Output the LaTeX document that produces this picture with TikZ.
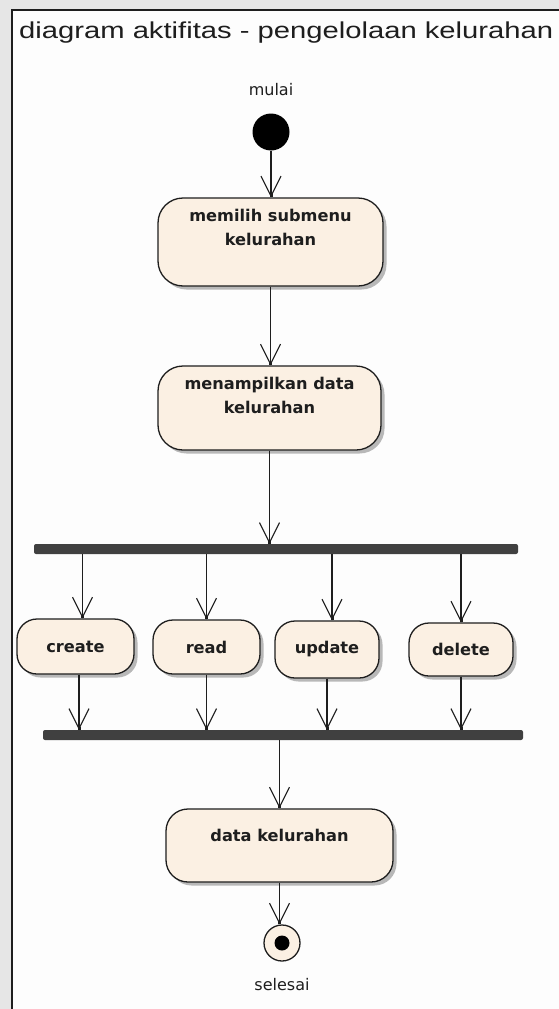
\documentclass[tikz,border=0pt]{standalone}
\usepackage{fontspec}
\setmainfont{DejaVu Sans}
\newfontfamily\titlefont{Liberation Sans}
\usetikzlibrary{arrows.meta,shadows}
\definecolor{boxfill}{HTML}{FBF0E3}
\definecolor{linec}{HTML}{1E1E1E}
\definecolor{barc}{HTML}{404040}
\definecolor{bgc}{HTML}{E6E6E6}
\definecolor{inner}{HTML}{FDFDFD}
\newcommand{\boxfont}{\fontsize{16.2}{23.5}\selectfont\bfseries}
\newcommand{\lblfont}{\fontsize{16}{19}\selectfont}
\begin{document}
\begin{tikzpicture}[x=1pt,y=-1pt,
  act/.style={draw=linec, line width=1.3pt, fill=boxfill, rounded corners=#1,
    drop shadow={shadow xshift=3.5pt, shadow yshift=-3.5pt, fill=black!50, opacity=0.55},
    inner sep=0pt, font=\boxfont, align=center, text=linec},
  act/.default=20pt,
  boxtext/.style={anchor=north, yshift=-12pt, font=\boxfont, align=center, text=linec, inner sep=0pt},
  bar/.style={fill=barc, rounded corners=2pt, inner sep=0pt, minimum height=10pt},
  flow/.style={draw=linec, line width=1.3pt,
    -{Straight Barb[length=20pt,width=20pt,line width=1.1pt,sep=-3pt]Square[length=3pt,width=3pt]}},
  lbl/.style={font=\lblfont, text=linec, inner sep=0pt}
]
\useasboundingbox (0,0) rectangle (559,1009);
% frame
\fill[bgc] (0,0) rectangle (559,1009);
\fill[inner] (12,10) rectangle (559,1009);
\draw[linec, line width=1.5pt] (12,1009) -- (12,10) -- (559,10);
\node[anchor=base west, inner sep=0pt, text=linec] (title) at (19,38.5)
  {\resizebox{534pt}{\height}{\titlefont\fontsize{23}{27}\selectfont diagram aktifitas - pengelolaan kelurahan}};

% start
\node[lbl] (mulai) at (271,90) {mulai};
\node[circle, fill=black, minimum size=37pt, inner sep=0pt] (start) at (271,132) {};

% activities
\node[act=25pt, minimum width=225pt, minimum height=88pt,
  label={[boxtext]north:memilih submenu\\kelurahan}] (b1) at (270.5,242) {};
\node[act=25pt, minimum width=223pt, minimum height=84pt,
  label={[boxtext]north:menampilkan data\\kelurahan}] (b2) at (269.5,408) {};

\node[bar, minimum width=484pt] (fork) at (276,549) {};

\node[act, minimum width=117pt, minimum height=55pt] (create) at (75.5,646.5) {create};
\node[act, minimum width=107pt, minimum height=54pt] (read) at (206.5,647) {read};
\node[act, minimum width=104pt, minimum height=57pt] (update) at (327,649.5) {update};
\node[act, minimum width=104pt, minimum height=53pt] (delete) at (461,649.5) {delete};

\node[bar, minimum width=480pt] (join) at (283,735) {};

\node[act=22pt, minimum width=227pt, minimum height=73pt,
  label={[boxtext, yshift=-9pt]north:data kelurahan}] (b3) at (279.5,845.5) {};

% end
\node[circle, draw=linec, line width=1.3pt, fill=boxfill, minimum size=36pt, inner sep=0pt] (end) at (282,943) {};
\fill[black] (end.center) circle (7.5pt);
\node[lbl] (selesai) at (282,985) {selesai};

% connectors
\draw[flow] (start.south) -- (start.south |- b1.north);
\draw[flow] (b1.south) -- (b1.south |- b2.north);
\draw[flow] (b2.south) -- (b2.south |- fork.north);

\path (create.north) ++(7,0) coordinate (cin);
\path (update.north) ++(5,0) coordinate (uin);
\draw[flow] (fork.south -| cin) -- (cin);
\draw[flow] (fork.south -| read.north) -- (read.north);
\draw[flow] (fork.south -| uin) -- (uin);
\draw[flow] (fork.south -| delete.north) -- (delete.north);

\path (create.south) ++(3.5,0) coordinate (cout);
\draw[flow] (cout) -- (cout |- join.north);
\draw[flow] (read.south) -- (read.south |- join.north);
\draw[flow] (update.south) -- (update.south |- join.north);
\draw[flow] (delete.south) -- (delete.south |- join.north);

\draw[flow] (join.south -| b3.north) -- (b3.north);
\draw[flow] (b3.south) -- (b3.south |- end.north);
\end{tikzpicture}
\end{document}
